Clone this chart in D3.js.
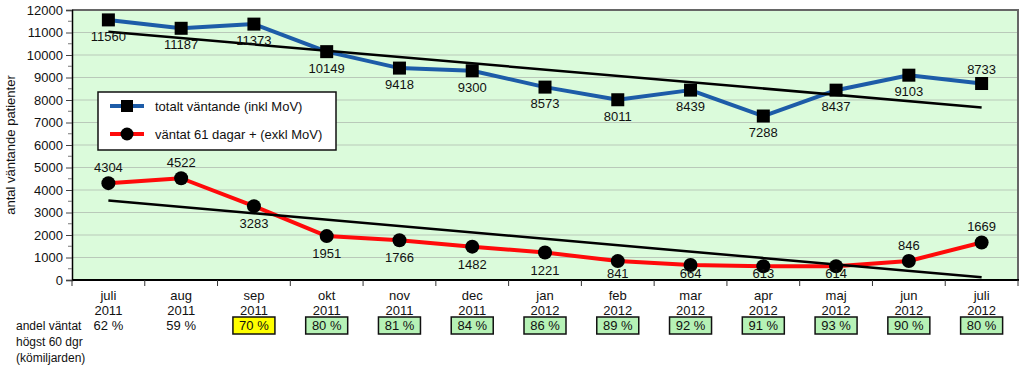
<!DOCTYPE html>
<html>
<head>
<meta charset="utf-8">
<script src="https://cdn.jsdelivr.net/npm/d3@7"></script>
<style>
  body { margin: 0; background: #fff; }
  svg text { font-family: "Liberation Sans", Arial, sans-serif; fill: #111; }
</style>
</head>
<body>
<svg id="chart" width="1024" height="365"></svg>
<script>
// data
let months = ['juli', 'aug', 'sep', 'okt', 'nov', 'dec', 'jan', 'feb', 'mar', 'apr', 'maj', 'jun', 'juli'];
let years = ['2011', '2011', '2011', '2011', '2011', '2011', '2012', '2012', '2012', '2012', '2012', '2012', '2012'];
let totalt = [11560, 11187, 11373, 10149, 9418, 9300, 8573, 8011, 8439, 7288, 8437, 9103, 8733];
let vantat61 = [4304, 4522, 3283, 1951, 1766, 1482, 1221, 841, 664, 613, 614, 846, 1669];
let andel = ['62 %', '59 %', '70 %', '80 %', '81 %', '84 %', '86 %', '89 %', '92 %', '91 %', '93 %', '90 %', '80 %'];
let andelBox = ['none', 'none', 'yellow', 'green', 'green', 'green', 'green', 'green', 'green', 'green', 'green', 'green', 'green'];
// label above (-1) or below (1) the point
let totaltLabelPos = [1, 1, 1, 1, 1, 1, 1, 1, 1, 1, 1, 1, -1];
let vantatLabelPos = [-1, -1, 1, 1, 1, 1, 1, 1, 1, 1, 1, -1, -1];
let yTicks = d3.range(0, 12001, 1000);

let svg = d3.select('#chart');
let plotLeft = 72, plotRight = 1018, plotTop = 10, plotBottom = 280;

let x = d3.scaleBand().domain(d3.range(months.length)).range([plotLeft, plotRight]);
let y = d3.scaleLinear().domain([0, 12000]).range([plotBottom, plotTop]);
let cx = i => x(i) + x.bandwidth() / 2;

// plot background
svg.append('rect')
  .attr('x', plotLeft).attr('y', plotTop)
  .attr('width', plotRight - plotLeft).attr('height', plotBottom - plotTop)
  .attr('fill', '#dbfbdb');

// grid
svg.append('g').selectAll('line')
  .data(yTicks.slice(1))
  .join('line')
  .attr('x1', plotLeft).attr('x2', plotRight)
  .attr('y1', d => y(d)).attr('y2', d => y(d))
  .attr('stroke', '#b9c9b9').attr('stroke-width', 1);

// frame top / right
svg.append('path')
  .attr('d', `M${plotLeft},${plotTop}H${plotRight}V${plotBottom}`)
  .attr('fill', 'none').attr('stroke', '#666').attr('stroke-width', 2);

// y axis
let yAxis = svg.append('g')
  .attr('transform', `translate(${plotLeft},0)`)
  .call(d3.axisLeft(y).tickValues(yTicks).tickFormat(d3.format('d')).tickSize(6).tickPadding(3));
yAxis.select('.domain').attr('stroke', '#000').attr('stroke-width', 1.5);
yAxis.selectAll('.tick line').attr('stroke', '#444');
yAxis.selectAll('text').attr('font-size', 13).attr('fill', '#111')
  .attr('font-family', '"Liberation Sans", Arial, sans-serif');
svg.append('g').selectAll('line')
  .data(d3.range(500, 12000, 1000))
  .join('line')
  .attr('x1', plotLeft - 4).attr('x2', plotLeft)
  .attr('y1', d => y(d)).attr('y2', d => y(d))
  .attr('stroke', '#777');

svg.append('text')
  .attr('transform', `translate(15,${(plotTop + plotBottom) / 2}) rotate(-90)`)
  .attr('text-anchor', 'middle')
  .attr('font-size', 13)
  .text('antal väntande patienter');

// x axis
svg.append('line')
  .attr('x1', plotLeft).attr('x2', plotRight + 1)
  .attr('y1', plotBottom).attr('y2', plotBottom)
  .attr('stroke', '#000').attr('stroke-width', 2);
svg.append('g').selectAll('line')
  .data(d3.range(months.length + 1))
  .join('line')
  .attr('x1', i => i < months.length ? x(i) : plotRight)
  .attr('x2', i => i < months.length ? x(i) : plotRight)
  .attr('y1', plotBottom).attr('y2', plotBottom + 6)
  .attr('stroke', '#333');

let cats = svg.append('g').selectAll('g')
  .data(months.map((m, i) => ({ month: m, year: years[i], andel: andel[i], box: andelBox[i] })))
  .join('g')
  .attr('transform', (d, i) => `translate(${cx(i)},0)`);
cats.append('text').attr('y', 300).attr('text-anchor', 'middle').attr('font-size', 13).text(d => d.month);
cats.append('text').attr('y', 315).attr('text-anchor', 'middle').attr('font-size', 13).text(d => d.year);
cats.filter(d => d.box != 'none')
  .append('rect')
  .attr('x', -21).attr('y', 317).attr('width', 42).attr('height', 17)
  .attr('fill', d => d.box == 'yellow' ? '#ffff00' : '#b6f2b6')
  .attr('stroke', '#111').attr('stroke-width', 1.5);
cats.append('text').attr('y', 330).attr('text-anchor', 'middle').attr('font-size', 13).text(d => d.andel);

['andel väntat', 'högst 60 dgr', '(kömiljarden)'].forEach((t, i) => {
  svg.append('text').attr('x', 16).attr('y', 330 + i * 16).attr('font-size', 12).text(t);
});

// trend lines (least squares on the series)
function trend(vals) {
  let xs = vals.map((v, i) => i);
  let mx = d3.mean(xs), my = d3.mean(vals);
  let b = d3.sum(xs, (xi, i) => (xi - mx) * (vals[i] - my)) / d3.sum(xs, xi => (xi - mx) ** 2);
  let a = my - b * mx;
  return [[0, a], [vals.length - 1, a + b * (vals.length - 1)]];
}
let line = d3.line().x(d => cx(d[0])).y(d => y(d[1]));

// series lines
svg.append('path')
  .datum(totalt.map((v, i) => [i, v]))
  .attr('d', line).attr('fill', 'none')
  .attr('stroke', '#1d5ca8').attr('stroke-width', 4).attr('stroke-linejoin', 'round');
svg.append('path')
  .datum(vantat61.map((v, i) => [i, v]))
  .attr('d', line).attr('fill', 'none')
  .attr('stroke', '#ff0a0a').attr('stroke-width', 4).attr('stroke-linejoin', 'round');

[totalt, vantat61].forEach(vals => {
  svg.append('path')
    .datum(trend(vals))
    .attr('d', line).attr('fill', 'none')
    .attr('stroke', '#000').attr('stroke-width', 2.5);
});

// markers
svg.append('g').selectAll('rect')
  .data(totalt)
  .join('rect')
  .attr('x', (d, i) => cx(i) - 6.5).attr('y', d => y(d) - 6.5)
  .attr('width', 13).attr('height', 13)
  .attr('fill', '#000');
svg.append('g').selectAll('circle')
  .data(vantat61)
  .join('circle')
  .attr('cx', (d, i) => cx(i)).attr('cy', d => y(d))
  .attr('r', 7).attr('fill', '#000');

// value labels (kept inside the plot area, like the original)
svg.append('g').selectAll('text')
  .data(totalt)
  .join('text')
  .attr('x', (d, i) => cx(i))
  .attr('y', (d, i) => y(d) + (totaltLabelPos[i] > 0 ? 21 : -10))
  .attr('text-anchor', 'middle').attr('font-size', 13)
  .text(d => d);
svg.append('g').selectAll('text')
  .data(vantat61)
  .join('text')
  .attr('x', (d, i) => cx(i))
  .attr('y', (d, i) => vantatLabelPos[i] > 0 ? Math.min(y(d) + 22, plotBottom - 2) : y(d) - 11)
  .attr('text-anchor', 'middle').attr('font-size', 13)
  .text(d => d);

// legend
let legend = svg.append('g').attr('transform', 'translate(98,92)');
legend.append('rect').attr('width', 238).attr('height', 58)
  .attr('fill', '#fff').attr('stroke', '#111').attr('stroke-width', 1.5);
let legItems = [
  { label: 'totalt väntande (inkl MoV)', color: '#1d5ca8', shape: 'square' },
  { label: 'väntat 61 dagar + (exkl MoV)', color: '#ff0a0a', shape: 'circle' }
];
legItems.forEach((it, i) => {
  let g = legend.append('g').attr('transform', `translate(0,${14 + i * 28})`);
  g.append('line').attr('x1', 12).attr('x2', 46).attr('stroke', it.color).attr('stroke-width', 4);
  if (it.shape == 'square') {
    g.append('rect').attr('x', 23).attr('y', -6).attr('width', 12).attr('height', 12).attr('fill', '#000');
  } else {
    g.append('circle').attr('cx', 29).attr('r', 6.5).attr('fill', '#000');
  }
  g.append('text').attr('x', 57).attr('y', 5).attr('font-size', 13).text(it.label);
});
</script>
</body>
</html>
